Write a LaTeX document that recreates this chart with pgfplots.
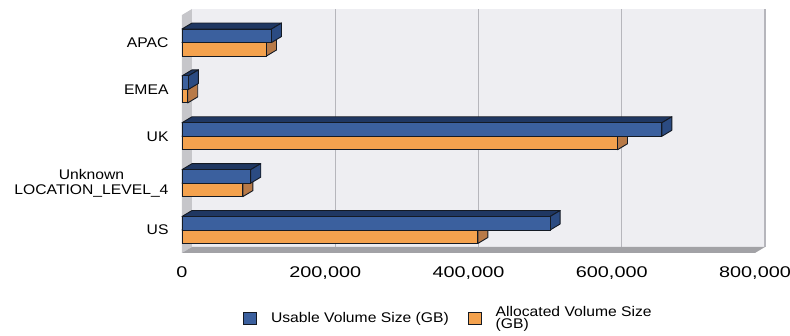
\documentclass[border=0pt]{standalone}
\usepackage{fontspec}
\setmainfont{Liberation Sans}[FakeStretch=1.12]
\newfontfamily\tickfont{Liberation Sans}[FakeStretch=1.28]
\usepackage{pgfplots}
\usepackage{pgfplotstable}
\pgfplotsset{compat=1.18}

\definecolor{usableFront}{HTML}{3B609E}
\definecolor{usableTop}{HTML}{1F3762}
\definecolor{usableSide}{HTML}{2B4B82}
\definecolor{allocFront}{HTML}{F4A24E}
\definecolor{allocTop}{HTML}{CC8848}
\definecolor{allocSide}{HTML}{B87A48}
\definecolor{edge}{HTML}{141A24}
\definecolor{wall}{HTML}{EEEEF2}
\definecolor{sidewall}{HTML}{C6C6CA}
\definecolor{floorc}{HTML}{A2A2A6}
\definecolor{gridc}{HTML}{B6B6BC}

% volume sizes per location (GB); pos is the row of the category
\pgfplotstableread{
pos usable allocated
4 125000 118000
3 9000 8000
2 670000 608000
1 96000 85000
0 514000 413000
}\volumes

% extrusion of the 3D bars in axis units (10pt right, 6pt up) and bar height
\def\dX{13962}
\def\dY{0.128}
\def\hB{0.288}

% top and side faces of one series: #1 column, #2 lower edge offset, #3 top colour, #4 side colour
\newcommand\barfaces[4]{%
  \pgfplotsinvokeforeach{0,...,4}{%
    \pgfplotstablegetelem{##1}{#1}\of\volumes \let\val\pgfplotsretval
    \pgfplotstablegetelem{##1}{pos}\of\volumes \let\cpos\pgfplotsretval
    \edef\yb{\fpeval{\cpos+#2}}%
    \edef\yt{\fpeval{\cpos+#2+\hB}}%
    \edef\ybb{\fpeval{\cpos+#2+\dY}}%
    \edef\ytt{\fpeval{\cpos+#2+\hB+\dY}}%
    \edef\xr{\fpeval{\val+\dX}}%
    \edef\doface{%
      \noexpand\addplot[forget plot, fill=#3, draw=edge, line width=0.9pt, line join=round]
        coordinates {(0,\yt) (\val,\yt) (\xr,\ytt) (\dX,\ytt)} -- cycle;
      \noexpand\addplot[forget plot, fill=#4, draw=edge, line width=0.9pt, line join=round]
        coordinates {(\val,\yb) (\xr,\ybb) (\xr,\ytt) (\val,\yt)} -- cycle;
    }%
    \doface
  }%
}

\begin{document}
\begin{tikzpicture}[x=1pt,y=1pt]
\useasboundingbox (0,0) rectangle (790,336);
\begin{axis}[
  at={(182pt,83pt)}, anchor=south west,
  scale only axis, width=573pt, height=238pt,
  xmin=0, xmax=800000, ymin=-0.49, ymax=4.587,
  enlargelimits=false, clip=false,
  axis line style={draw=none}, tick style={draw=none},
  xtick={0,200000,400000,600000,800000},
  scaled x ticks=false,
  xticklabel={\pgfmathprintnumber[fixed, precision=0, 1000 sep={,}, assume math mode=true]{\tick}},
  xticklabel style={font=\tickfont\fontsize{15.5}{17}\selectfont, yshift=-10pt},
  ytick={0,1,2,3,4},
  yticklabels={US,{Unknown\\LOCATION\_LEVEL\_4},UK,EMEA,APAC},
  yticklabel style={font=\fontsize{14}{14.5}\selectfont, align=center, xshift=-10pt},
  legend columns=2,
  legend cell align=left,
  legend style={draw=none, fill=none, at={(0.465,-0.273)}, anchor=center,
    font=\fontsize{14}{12.5}\selectfont, cells={align=left},
    /tikz/every odd column/.append style={column sep=12pt},
    /tikz/every even column/.append style={column sep=17pt}},
  legend image code/.code={\draw[#1, draw=edge, line width=0.9pt] (0pt,-6pt) rectangle (13pt,6pt);},
]
% back wall, grid, side wall and floor
\fill[wall] ([shift={(10pt,6pt)}]axis cs:0,-0.49) rectangle ([shift={(10pt,6pt)}]axis cs:800000,4.587);
\pgfplotsinvokeforeach{200000,400000,600000,800000}{
  \draw[gridc, line width=1.2pt] ([shift={(10pt,6pt)}]axis cs:#1,-0.49) -- ([shift={(10pt,6pt)}]axis cs:#1,4.587);
}
\fill[sidewall] (axis cs:0,-0.49) -- (axis cs:0,4.587) -- ([shift={(10pt,6pt)}]axis cs:0,4.587) -- ([shift={(10pt,6pt)}]axis cs:0,-0.49) -- cycle;
\fill[floorc] (axis cs:0,-0.49) -- (axis cs:800000,-0.49) -- ([shift={(10pt,6pt)}]axis cs:800000,-0.49) -- ([shift={(10pt,6pt)}]axis cs:0,-0.49) -- cycle;

\addlegendimage{fill=usableFront}
\addlegendentry{Usable Volume Size (GB)}
\addlegendimage{fill=allocFront}
\addlegendentry{Allocated Volume Size\\(GB)}

% allocated bars (lower half of each category)
\barfaces{allocated}{-\hB}{allocTop}{allocSide}
\addplot[forget plot, xbar, bar width=13.5pt, bar shift=-6.75pt, fill=allocFront, draw=edge, line width=0.9pt]
  table[x=allocated, y=pos] {\volumes};
% usable bars (upper half of each category)
\barfaces{usable}{0}{usableTop}{usableSide}
\addplot[forget plot, xbar, bar width=13.5pt, bar shift=6.75pt, fill=usableFront, draw=edge, line width=0.9pt]
  table[x=usable, y=pos] {\volumes};
\end{axis}
\end{tikzpicture}
\end{document}
